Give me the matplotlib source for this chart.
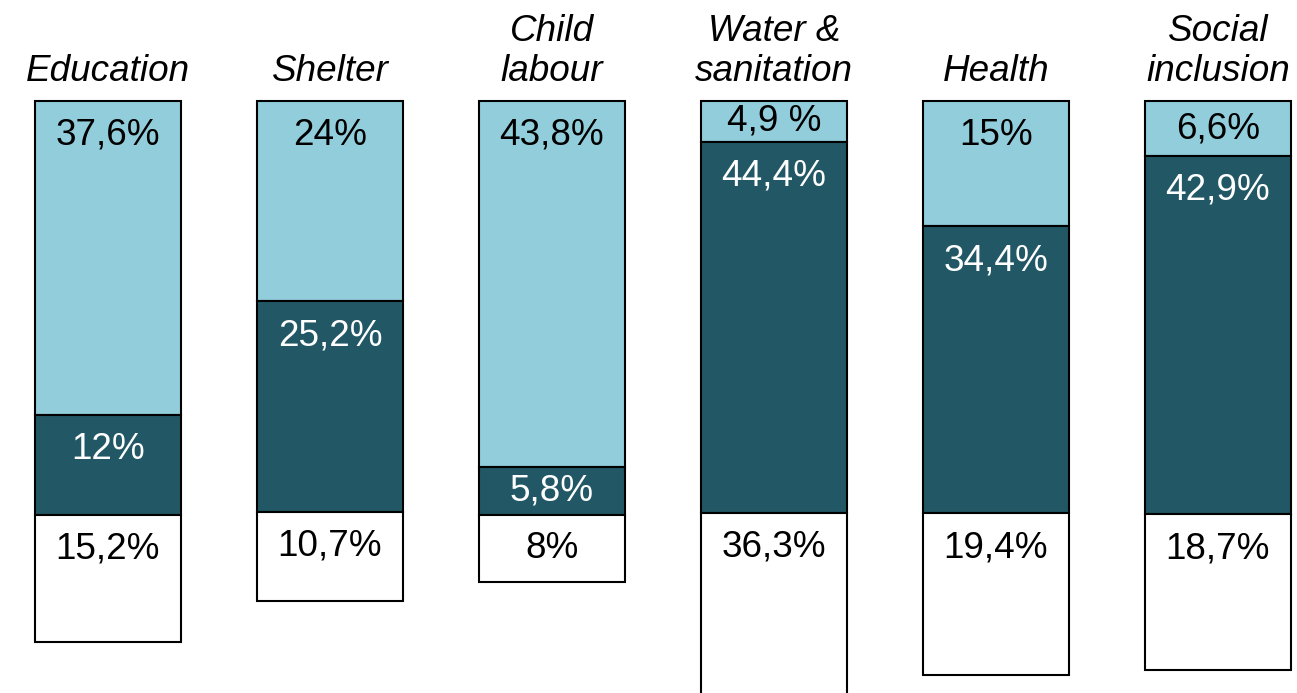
import matplotlib.pyplot as plt
import numpy as np

categories = ['Education', 'Shelter', 'Child\nlabour', 'Water &\nsanitation', 'Health', 'Social\ninclusion']
top_vals = [37.6, 24.0, 43.8, 4.9, 15.0, 6.6]
mid_vals = [12.0, 25.2, 5.8, 44.4, 34.4, 42.9]
low_vals = [15.2, 10.7, 8.0, 36.3, 19.4, 18.7]
top_labels = ['37,6%', '24%', '43,8%', '4,9 %', '15%', '6,6%']
mid_labels = ['12%', '25,2%', '5,8%', '44,4%', '34,4%', '42,9%']
low_labels = ['15,2%', '10,7%', '8%', '36,3%', '19,4%', '18,7%']

plt.rcParams['font.family'] = ['Liberation Sans', 'DejaVu Sans']

light = '#92cddc'
dark = '#225866'

fig = plt.figure(figsize=(12.97, 6.93), dpi=100)
ax = fig.add_axes([0, 0, 1, 1])

x = np.arange(len(categories))
width = 0.66
fs = 26.6

segments = [
    (top_vals, top_labels, light, 'black'),
    (mid_vals, mid_labels, dark, 'white'),
    (low_vals, low_labels, 'white', 'black'),
]

start = np.zeros(len(categories))
for vals, labels, color, tcolor in segments:
    vals = np.array(vals)
    ax.bar(x, vals, width=width, bottom=start, color=color,
           edgecolor='black', linewidth=1.5)
    for i in range(len(x)):
        # label sits near the top of its segment, centred if the segment is short
        off = min(4.1, vals[i] / 2)
        ax.text(x[i], start[i] + off, labels[i], ha='center', va='center',
                fontsize=fs, color=tcolor)
    start = start + vals

for i, cat in enumerate(categories):
    ax.text(x[i], -1.5, cat, ha='center', va='bottom', fontsize=fs,
            style='italic', linespacing=1.15)

# ~222 px per category, first bar centred near x=108 px
ax.set_xlim(-108 / 222, (1297 - 108) / 222)
ax.set_ylim(70.9, -12.1)
ax.axis('off')

fig.savefig('out.png', dpi=100)
